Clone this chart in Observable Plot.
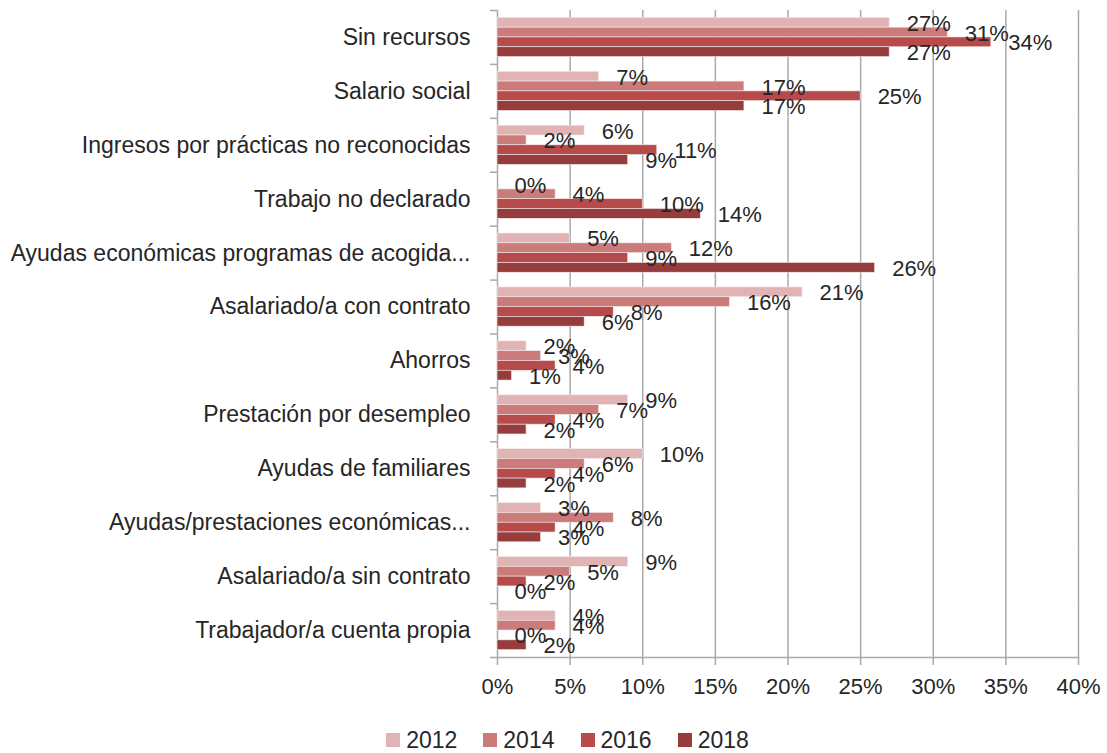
<!DOCTYPE html>
<html>
<head>
<meta charset="utf-8">
<script src="https://cdn.jsdelivr.net/npm/d3@7"></script>
<script src="https://cdn.jsdelivr.net/npm/@observablehq/plot@0.6"></script>
<style>
  body { margin: 0; background: #fff; font-family: "Liberation Sans", Arial, sans-serif; }
  #chart svg { display: block; }
  #legend { display: flex; justify-content: center; align-items: center; gap: 26px; height: 48px; margin-top: 11px; padding-left: 28px; font-size: 23px; color: #262626; }
  #legend .item { display: flex; align-items: center; gap: 6px; }
  #legend .sw { width: 14px; height: 14px; display: inline-block; }
</style>
</head>
<body>
<div id="chart"></div>
<div id="legend"></div>
<script>
const categories = [
  "Sin recursos",
  "Salario social",
  "Ingresos por prácticas no reconocidas",
  "Trabajo no declarado",
  "Ayudas económicas programas de acogida...",
  "Asalariado/a con contrato",
  "Ahorros",
  "Prestación por desempleo",
  "Ayudas de familiares",
  "Ayudas/prestaciones económicas...",
  "Asalariado/a sin contrato",
  "Trabajador/a cuenta propia"
];
const years = ["2012", "2014", "2016", "2018"];
const v2012 = [27, 7, 6, 0, 5, 21, 2, 9, 10, 3, 9, 4];
const v2014 = [31, 17, 2, 4, 12, 16, 3, 7, 6, 8, 5, 4];
const v2016 = [34, 25, 11, 10, 9, 8, 4, 4, 4, 4, 2, 0];
const v2018 = [27, 17, 9, 14, 26, 6, 1, 2, 2, 3, 0, 2];
const colors = ["#e0b4b4", "#cc7b7b", "#b74a4a", "#963c3c"];
const xTicks = [0, 5, 10, 15, 20, 25, 30, 35, 40];

const series = [v2012, v2014, v2016, v2018];
const data = [];
categories.forEach((cat, i) => {
  years.forEach((yr, j) => data.push({cat, year: yr, value: series[j][i]}));
});

const W = 1107, H = 705, mT = 10, mB = 48, mL = 497, mR = 29;
const half = (H - mT - mB) / categories.length / 2;
const gray = "#a9a9a9";
const font = "Liberation Sans, Arial, sans-serif";
const lastCat = categories[categories.length - 1];

const chart = Plot.plot({
  width: W, height: H,
  marginTop: mT, marginBottom: mB, marginLeft: mL, marginRight: mR,
  style: {fontFamily: font, color: "#262626", background: "white"},
  fy: {domain: categories, padding: 0, round: false, label: null},
  y: {domain: years, paddingInner: 0, paddingOuter: 0.75, round: false, axis: null},
  x: {domain: [0, 40], label: null},
  color: {domain: years, range: colors},
  marks: [
    Plot.gridX(xTicks.filter(d => d > 0), {stroke: gray, strokeOpacity: 1, strokeWidth: 1.5}),
    Plot.ruleX([0], {stroke: gray, strokeWidth: 1.5}),
    Plot.frame({anchor: "bottom", fy: lastCat, stroke: gray, strokeWidth: 1.5}),
    Plot.barX(data, {fy: "cat", y: "year", x: "value", fill: "year", stroke: "#f6eaea", strokeWidth: 0.6}),
    Plot.text(data, {fy: "cat", y: "year", x: "value", text: d => d.value + "%", textAnchor: "start", dx: 17, dy: 1, fontSize: 22, fill: "#262626"}),
    Plot.axisFy({anchor: "left", tickSize: 0, tickPadding: 27, fontSize: 23, label: null, fill: "#262626"}),
    Plot.axisFy({anchor: "left", tickSize: 7, fill: "none", dy: -half, stroke: gray, strokeWidth: 1.5, label: null}),
    Plot.axisFy({anchor: "left", ticks: [lastCat], tickSize: 7, fill: "none", dy: half, stroke: gray, strokeWidth: 1.5, label: null}),
    Plot.axisX(xTicks, {tickSize: 8, tickPadding: 13, fontSize: 22, stroke: gray, strokeWidth: 1.5, tickFormat: d => d + "%", label: null, fill: "#262626"})
  ]
});
document.getElementById("chart").appendChild(chart);

const legend = document.getElementById("legend");
years.forEach((yr, j) => {
  const item = document.createElement("span");
  item.className = "item";
  const sw = document.createElement("span");
  sw.className = "sw";
  sw.style.background = colors[j];
  const t = document.createElement("span");
  t.textContent = yr;
  item.appendChild(sw); item.appendChild(t);
  legend.appendChild(item);
});
</script>
</body>
</html>
